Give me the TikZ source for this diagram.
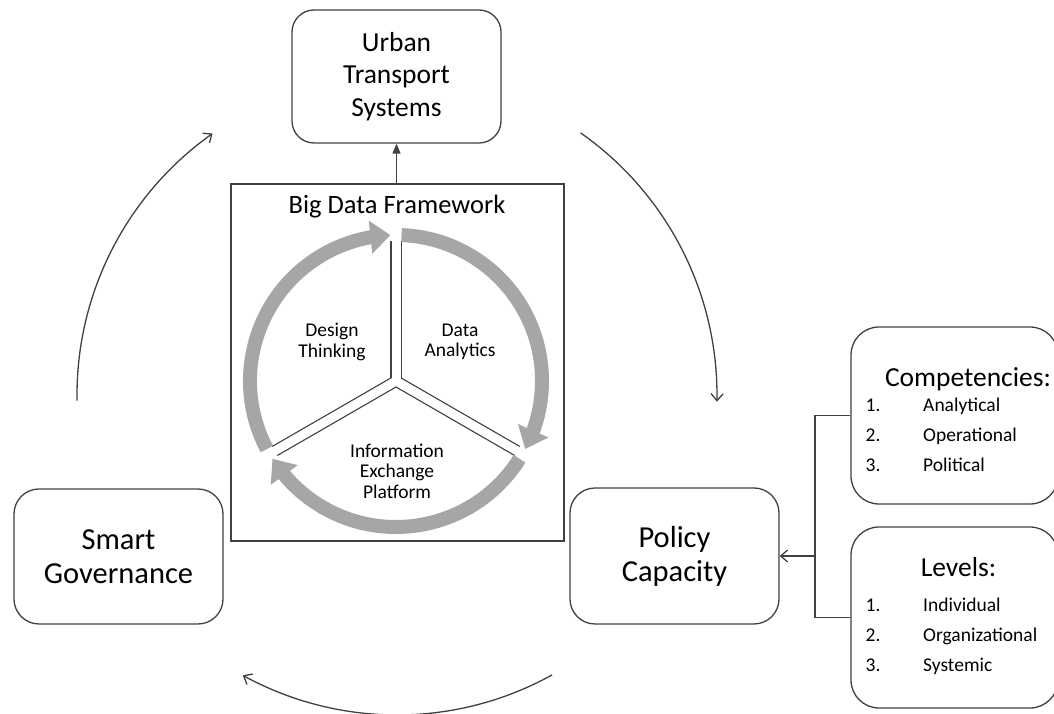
\documentclass[tikz,border=0pt]{standalone}
\usepackage{fontspec}
\setmainfont{Carlito}
\usetikzlibrary{arrows.meta,bending}
\definecolor{ln}{HTML}{404040}
\definecolor{band}{HTML}{A6A6A6}
\newcommand\fUrban{\fontsize{27.5}{32.5}\selectfont}
\newcommand\fBox{\fontsize{30.5}{34}\selectfont}
\newcommand\fCirc{\fontsize{19.5}{20.5}\selectfont}
\newcommand\fTitle{\fontsize{26.5}{30}\selectfont}
\newcommand\fHead{\fontsize{27.5}{30}\selectfont}
\newcommand\fItem{\fontsize{19.5}{22}\selectfont}
\begin{document}
\begin{tikzpicture}[x=1pt,y=1pt,
  box/.style={draw=ln, line width=1.3pt, rounded corners=22pt, align=center, inner sep=0pt, text=black},
  conn/.style={draw=ln, line width=1.3pt},
  openarrow/.style={-{Straight Barb[length=7pt,width=12pt,line width=1.3pt]}},
  circtext/.style={align=center, inner sep=0pt, font=\fCirc, text=black},
  itemtext/.style={anchor=base west, inner sep=0pt, font=\fItem, text=black},
  headtext/.style={anchor=base, inner sep=0pt, font=\fHead, text=black},
  bandarc/.style={draw=band, line width=14pt, -{Triangle[length=20pt,width=32pt]}}
]
\useasboundingbox (0,0) rectangle (1054,714);
\clip (0,0) rectangle (1054,714);

% main boxes
\node[box, font=\fUrban, minimum width=209pt, minimum height=133pt] (urban) at (396.5,637.5) {Urban\\Transport\\Systems};
\node[box, font=\fBox, rounded corners=25pt, minimum width=209pt, minimum height=135pt] (smart) at (118.5,157.5) {Smart\\Governance};
\node[box, font=\fBox, rounded corners=25pt, minimum width=209pt, minimum height=136pt] (policy) at (674.5,158) {Policy\\Capacity};

% framework frame
\node[draw=ln, line width=1.2pt, minimum width=333pt, minimum height=357pt, inner sep=0pt] (frame) at (397.5,351.5) {};
\node[anchor=base, inner sep=0pt, font=\fTitle, text=black] (bdf) at (397,500) {Big Data Framework};
\draw[conn, -{Triangle[length=10pt,width=8pt]}] (urban.south |- frame.north) -- (urban.south);

% cycle
\coordinate (cc) at (396,333);
\foreach \a in {90,210,-30} \draw[ln, line width=11.5pt] (cc) -- ++(\a:140);
\foreach \a in {90,210,-30} \draw[white, line width=9pt] (cc) -- ++(\a:141);
\draw[bandarc] ([shift={(207.8:146)}]cc) arc[start angle=207.8, end angle=92.2, radius=146];
\draw[bandarc] ([shift={(87.8:146)}]cc) arc[start angle=87.8, end angle=-27.8, radius=146];
\draw[bandarc] ([shift={(-32.2:146)}]cc) arc[start angle=-32.2, end angle=-147.8, radius=146];
\node[circtext] (design) at (332,372) {Design\\Thinking};
\node[circtext] (data) at (460,372) {Data\\Analytics};
\node[circtext] (info) at (397,243) {Information\\Exchange\\Platform};

% outer cycle arrows
\coordinate (bc) at (397,319);
\draw[conn, openarrow] ([shift={(181:320)}]bc) arc[start angle=181, end angle=125.2, radius=320];
\draw[conn, openarrow] ([shift={(55:320)}]bc) arc[start angle=55, end angle=-1.2, radius=320];
\draw[conn, openarrow] ([shift={(-61:320)}]bc) arc[start angle=-61, end angle=-118.8, radius=320];

% right boxes
\node[box, rounded corners=28pt, minimum width=207pt, minimum height=177pt] (comp) at (954.5,298.5) {};
\node[box, rounded corners=28pt, minimum width=207pt, minimum height=181pt] (levels) at (954.5,96.5) {};
\node[headtext] (comph) at (968,327) {Competencies:};
\node[itemtext] (c1n) at (865.5,302) {1.};
\node[itemtext] (c1t) at (923,302) {Analytical};
\node[itemtext] (c2n) at (865.5,272) {2.};
\node[itemtext] (c2t) at (923,272) {Operational};
\node[itemtext] (c3n) at (865.5,242) {3.};
\node[itemtext] (c3t) at (923,242) {Political};
\node[headtext] (levh) at (958.5,137) {Levels:};
\node[itemtext] (l1n) at (865.5,102) {1.};
\node[itemtext] (l1t) at (923,102) {Individual};
\node[itemtext] (l2n) at (865.5,72) {2.};
\node[itemtext] (l2t) at (923,72) {Organizational};
\node[itemtext] (l3n) at (865.5,42) {3.};
\node[itemtext] (l3t) at (923,42) {Systemic};

% bracket connector
\coordinate (jn) at (815,158);
\draw[conn] (comp.west) -| (jn) |- (levels.west);
\draw[conn, openarrow] (jn) -- (policy.east);
\end{tikzpicture}
\end{document}
